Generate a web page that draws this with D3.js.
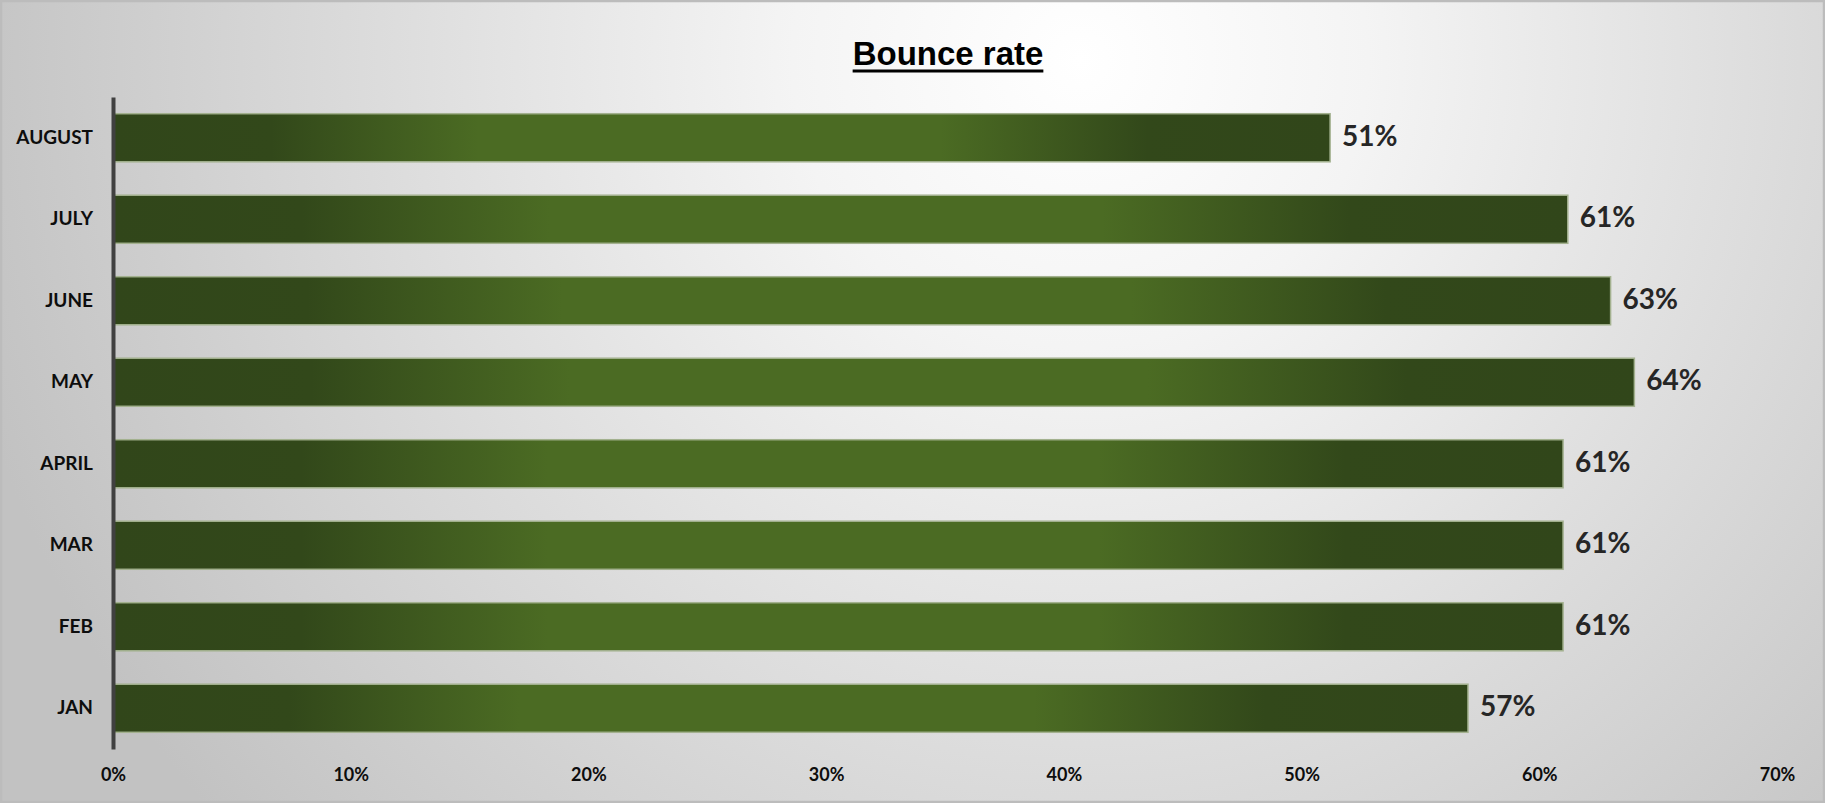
<!DOCTYPE html>
<html>
<head>
<meta charset="utf-8">
<script src="https://cdn.jsdelivr.net/npm/d3@7"></script>
<style>
html,body{margin:0;padding:0;background:#fff;}
svg{display:block;}
</style>
</head>
<body>
<svg id="chart" width="1825" height="803"></svg>
<script>
const title = "Bounce rate";
const months = ["JAN","FEB","MAR","APRIL","MAY","JUNE","JULY","AUGUST"];
const bounceRate = [57, 61, 61, 61, 64, 63, 61.2, 51.2];
const xTicks = [0, 10, 20, 30, 40, 50, 60, 70];

const W = 1825, H = 803;
const svg = d3.select("#chart");
const defs = svg.append("defs");

// background radial gradient
const bg = defs.append("radialGradient").attr("id","bg")
  .attr("gradientUnits","userSpaceOnUse")
  .attr("cx",1080).attr("cy",60).attr("r",1150).attr("fx",1080).attr("fy",60);
bg.append("stop").attr("offset","0").attr("stop-color","#ffffff");
bg.append("stop").attr("offset","0.25").attr("stop-color","#f4f4f4");
bg.append("stop").attr("offset","1").attr("stop-color","#c2c2c2");

// bar gradient
const bar = defs.append("linearGradient").attr("id","barGrad")
  .attr("x1","0").attr("x2","1").attr("y1","0").attr("y2","0");
[[0,"#31461a"],[0.13,"#32481a"],[0.30,"#4b6b23"],[0.68,"#4b6b23"],[0.85,"#32481a"],[1,"#31461a"]]
  .forEach(([o,c]) => bar.append("stop").attr("offset",o).attr("stop-color",c));

svg.append("rect").attr("x",1).attr("y",1).attr("width",W-2).attr("height",H-2)
  .attr("fill","url(#bg)").attr("stroke","#bcbcbc").attr("stroke-width",2.5);

const x = d3.scaleLinear().domain([0,70]).range([113,1777]);
const y = d3.scaleBand().domain(months.slice().reverse()).range([97,749])
  .paddingInner(0.41).paddingOuter(0.205);

// title
const t = svg.append("text").attr("x",948).attr("y",65)
  .attr("text-anchor","middle")
  .attr("font-family","'Liberation Sans', Arial, sans-serif")
  .attr("font-weight","bold").attr("font-size",33).attr("fill","#000")
  .text(title);
const tw = t.node().getComputedTextLength();
svg.append("rect").attr("x",948 - tw/2).attr("y",69.5).attr("width",tw).attr("height",3).attr("fill","#000");

// bars
svg.append("g").selectAll("rect").data(months).join("rect")
  .attr("x", x(0))
  .attr("y", d => y(d))
  .attr("width", (d,i) => x(bounceRate[i]) - x(0))
  .attr("height", y.bandwidth())
  .attr("fill","url(#barGrad)")
  .attr("stroke","#a3b18f").attr("stroke-width",1.5);

// value labels
svg.append("g").selectAll("text").data(months).join("text")
  .attr("x", (d,i) => x(bounceRate[i]) + 12)
  .attr("y", d => y(d) + y.bandwidth()/2 - 2)
  .attr("dy","0.36em")
  .attr("font-family","Lato, 'Open Sans', sans-serif")
  .attr("font-weight","bold").attr("font-size",28).attr("fill","#262626")
  .text((d,i) => Math.round(bounceRate[i]) + "%");

// y axis
const yAxis = svg.append("g").attr("transform",`translate(${x(0)},0)`)
  .call(d3.axisLeft(y).tickSize(0).tickPadding(20));
yAxis.select(".domain").attr("stroke","#404040").attr("stroke-width",4);
yAxis.selectAll("text").attr("font-family","Lato, sans-serif").attr("font-weight","bold")
  .attr("font-size",19).attr("fill","#0d0d0d");

// x axis
const xAxis = svg.append("g").attr("transform","translate(0,749)")
  .call(d3.axisBottom(x).tickValues(xTicks).tickSize(0).tickPadding(19).tickFormat(d => d + "%"));
xAxis.select(".domain").remove();
xAxis.selectAll("text").attr("font-family","Lato, sans-serif").attr("font-weight","bold")
  .attr("font-size",18).attr("fill","#0d0d0d");
</script>
</body>
</html>
